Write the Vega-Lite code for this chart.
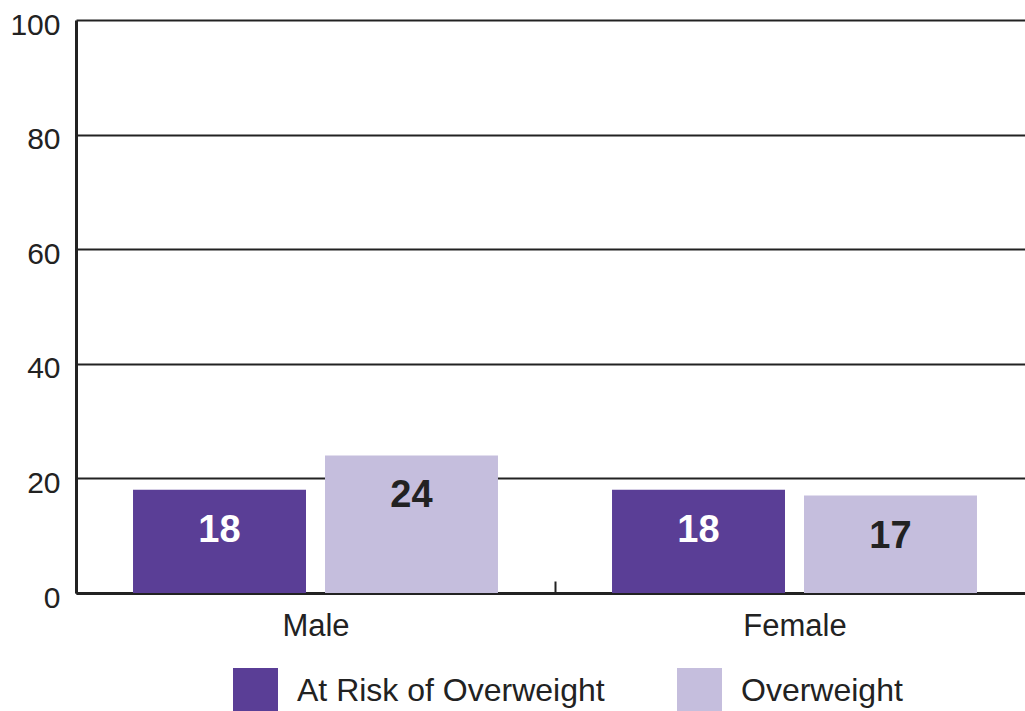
{
  "$schema": "https://vega.github.io/schema/vega-lite/v6.json",
  "width": 958,
  "height": 573,
  "autosize": {"type": "none"},
  "padding": {"left": 76, "top": 20, "right": 0, "bottom": 118},
  "background": "white",
  "data": {
    "values": [
      {"gender": "Male", "series": "At Risk of Overweight", "value": 18},
      {"gender": "Male", "series": "Overweight", "value": 24},
      {"gender": "Female", "series": "At Risk of Overweight", "value": 18},
      {"gender": "Female", "series": "Overweight", "value": 17}
    ]
  },
  "config": {
    "view": {"stroke": null},
    "font": "Liberation Sans",
    "text": {"font": "Liberation Sans"}
  },
  "encoding": {
    "x": {
      "field": "gender",
      "type": "nominal",
      "sort": ["Male", "Female"],
      "scale": {"paddingInner": 0, "paddingOuter": 0},
      "axis": {
        "title": null,
        "labelAngle": 0,
        "labelFont": "Liberation Sans",
        "labelFontSize": 31,
        "labelColor": "#222222",
        "labelPadding": 30,
        "tickBand": "extent",
        "tickSize": -12,
        "tickWidth": 2,
        "tickColor": "#222222",
        "domainColor": "#222222",
        "domainWidth": 3,
        "grid": false
      }
    },
    "xOffset": {
      "field": "series",
      "type": "nominal",
      "sort": ["At Risk of Overweight", "Overweight"],
      "scale": {"paddingInner": 0.099, "paddingOuter": 0.297}
    },
    "y": {
      "field": "value",
      "type": "quantitative",
      "scale": {"domain": [0, 100], "nice": false},
      "axis": {
        "title": null,
        "values": [0, 20, 40, 60, 80, 100],
        "labelFont": "Liberation Sans",
        "labelFontSize": 30,
        "labelColor": "#222222",
        "labelPadding": 16,
        "labelOffset": 5,
        "ticks": false,
        "domainColor": "#222222",
        "domainWidth": 3,
        "grid": true,
        "gridColor": "#222222",
        "gridWidth": 2,
        "gridOpacity": 1
      }
    }
  },
  "layer": [
    {
      "mark": {"type": "bar"},
      "encoding": {
        "color": {
          "field": "series",
          "type": "nominal",
          "sort": ["At Risk of Overweight", "Overweight"],
          "scale": {"domain": ["At Risk of Overweight", "Overweight"], "range": ["#5A3E96", "#C5BEDD"]},
          "legend": {
            "title": null,
            "orient": "none",
            "direction": "horizontal",
            "legendX": 157,
            "legendY": 648,
            "symbolType": "square",
            "symbolSize": 2025,
            "symbolStrokeWidth": 0,
            "symbolOpacity": 1,
            "labelFont": "Liberation Sans",
            "labelFontSize": 32,
            "labelColor": "#222222",
            "labelOffset": 19,
            "columnPadding": 72,
            "labelLimit": 500
          }
        }
      }
    },
    {
      "mark": {"type": "text", "fontWeight": "bold", "fontSize": 38, "baseline": "middle", "dy": 41},
      "encoding": {
        "text": {"field": "value", "type": "quantitative"},
        "color": {
          "condition": {"test": "datum.series === 'Overweight'", "value": "#222222"},
          "value": "white"
        }
      }
    }
  ]
}
